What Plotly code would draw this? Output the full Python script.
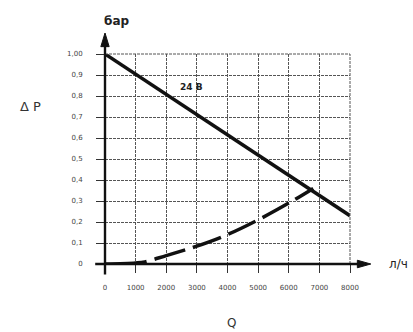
import plotly.graph_objects as go

# Data
solid_q = [0, 8000]
solid_dp = [1.00, 0.23]
dash_q = [0, 1000, 1300, 2000, 3000, 4000, 5000, 6000, 6800]
dash_dp = [0.0, 0.005, 0.01, 0.04, 0.085, 0.14, 0.21, 0.29, 0.36]
x_ticks = [0, 1000, 2000, 3000, 4000, 5000, 6000, 7000, 8000]
x_labels = ["0", "1000", "2000", "3000", "4000", "5000", "6000", "7000", "8000"]
y_ticks = [0, 0.1, 0.2, 0.3, 0.4, 0.5, 0.6, 0.7, 0.8, 0.9, 1.0]
y_labels = ["0", "0,1", "0,2", "0,3", "0,4", "0,5", "0,6", "0,7", "0,8", "0,9", "1,00"]

fig = go.Figure()
fig.add_trace(go.Scatter(x=solid_q, y=solid_dp, mode="lines",
                         line=dict(color="#111", width=3.5), cliponaxis=False))
fig.add_trace(go.Scatter(x=dash_q, y=dash_dp, mode="lines", line_shape="spline",
                         line=dict(color="#111", width=3.5,
                                   dash="42px,8px,32px,8px,30px,8px,30px,8px,30px,8px,30px,8px,30px,8px"),
                         cliponaxis=False))

font = "DejaVu Sans"
fig.update_layout(
    width=413, height=332, showlegend=False,
    paper_bgcolor="white", plot_bgcolor="white",
    margin=dict(l=105, r=63, t=54, b=68, autoexpand=False),
    font=dict(family=font, color="#222"),
    xaxis=dict(range=[0, 8000], tickvals=x_ticks, ticktext=x_labels,
               showgrid=True, gridcolor="#555", gridwidth=1, griddash="3px,1px",
               zeroline=False, showline=False, ticks="outside", ticklen=8,
               tickcolor="#333", tickfont=dict(size=7, color="#444"),
               ticklabelstandoff=9, automargin=False),
    yaxis=dict(range=[0, 1.0], tickvals=y_ticks, ticktext=y_labels,
               showgrid=True, gridcolor="#555", gridwidth=1, griddash="3px,1px",
               zeroline=False, showline=False, ticks="outside", ticklen=8,
               tickcolor="#333", tickfont=dict(size=7, color="#444"),
               ticklabelstandoff=12, automargin=False),
)
# top and right border grid lines
fig.add_shape(type="line", xref="paper", yref="paper", x0=0, x1=1, y0=1.0, y1=1.0,
              line=dict(color="#555", width=1, dash="3px,1px"))
fig.add_shape(type="line", xref="paper", yref="paper", x0=1, x1=1, y0=0, y1=1.0,
              line=dict(color="#555", width=1, dash="3px,1px"))

# axis lines (paper coords so they are not clipped)
fig.add_shape(type="line", xref="paper", yref="paper", x0=0, x1=0, y0=-0.05, y1=1.05,
              line=dict(color="#111", width=2.4))
fig.add_shape(type="line", xref="paper", yref="paper", x0=-0.04, x1=1.04, y0=0, y1=0,
              line=dict(color="#111", width=2.4))
# arrowheads
fig.add_shape(type="path", xref="paper", yref="paper",
              path="M -0.017,1.035 L 0.017,1.035 L 0,1.10 Z",
              fillcolor="#111", line=dict(color="#111", width=1))
fig.add_shape(type="path", xref="paper", yref="paper",
              path="M 1.03,0.018 L 1.03,-0.018 L 1.085,0 Z",
              fillcolor="#111", line=dict(color="#111", width=1))

# labels
common = dict(xref="paper", yref="paper", showarrow=False, xanchor="center", yanchor="middle")
fig.add_annotation(x=0.045, y=1.155, text="<b>бар</b>",
                   font=dict(size=12, color="#222", family=font), **common)
fig.add_annotation(x=-0.306, y=0.748, text="Δ P",
                   font=dict(size=13, color="#333", family=font), **common)
fig.add_annotation(x=1.196, y=0.0, text="л/ч",
                   font=dict(size=12, color="#222", family=font), **common)
fig.add_annotation(x=0.518, y=-0.281, text="Q",
                   font=dict(size=12, color="#333", family=font), **common)
fig.add_annotation(x=2840, y=0.843, xref="x", yref="y", showarrow=False,
                   xanchor="center", yanchor="middle",
                   text="<b>24 В</b>", font=dict(size=9, color="#222", family=font))

fig.write_html("out.html", config={"displayModeBar": False},
               post_script="document.body.style.margin='0px';")
